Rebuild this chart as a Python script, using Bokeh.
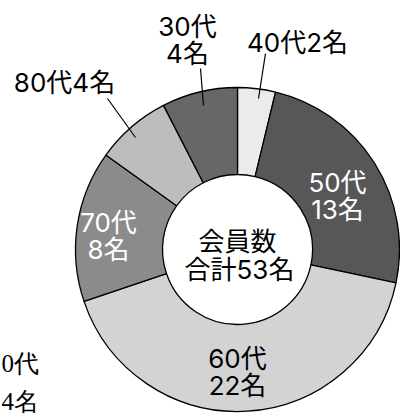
import numpy as np
from bokeh.plotting import figure
from bokeh.models import Range1d, ColumnDataSource
from bokeh.core.properties import value
from bokeh.embed import file_html
from bokeh.resources import INLINE

# ---- data ----
ages = ["40代", "50代", "60代", "70代", "80代", "30代"]
counts = [2, 13, 22, 8, 4, 4]
colors = ["#ebebeb", "#575757", "#d3d3d3", "#8b8b8b", "#bdbdbd", "#676767"]
center_title = "会員数"
side_lines = ["0代", "4名"]

W, H = 400, 417
p = figure(width=W, height=H, x_range=Range1d(0, W), y_range=Range1d(0, H),
           output_backend="svg", toolbar_location=None, min_border=0)
p.axis.visible = False
p.grid.visible = False
p.outline_line_color = None
p.background_fill_color = "white"


def Y(y):
    return H - y


FONT = value("Inter, 'Noto Sans CJK JP'")
cx, cy = 237, Y(249)
R_out, R_in = 162, 75
total = sum(counts)
cum = np.cumsum([0] + counts)
start = np.pi / 2 - cum[:-1] / total * 2 * np.pi
end = np.pi / 2 - cum[1:] / total * 2 * np.pi
src = ColumnDataSource(dict(start=start, end=end, color=colors))
p.annular_wedge(x=cx, y=cy, inner_radius=R_in, outer_radius=R_out,
                start_angle="start", end_angle="end", direction="clock",
                fill_color="color", line_color="black", line_width=1.3, source=src)

# labels: (lines, x, first-line y, color)
lab = {
    "40代": ([f"{ages[0]}{counts[0]}名"], 297, 42, "black"),
    "50代": ([ages[1], f"{counts[1]}名"], 337, 182, "white"),
    "60代": ([ages[2], f"{counts[2]}名"], 237, 358, "black"),
    "70代": ([ages[3], f"{counts[3]}名"], 108, 222, "white"),
    "80代": ([f"{ages[4]}{counts[4]}名"], 64, 82, "black"),
    "30代": ([ages[5], f"{counts[5]}名"], 187, 26, "black"),
}
xs, ys, ts, cs = [], [], [], []
for a in ages:
    lines, x, y0, c = lab[a]
    for i, t in enumerate(lines):
        xs.append(x); ys.append(Y(y0 + 27 * i)); ts.append(t); cs.append(c)
xs += [237, 239]; ys += [Y(241), Y(269)]
ts += [center_title, f"合計{total}名"]; cs += ["black", "black"]
p.text(x=xs, y=ys, text=ts, text_color=cs, text_font=FONT, text_font_size="26px",
       text_align="center", text_baseline="middle")

# leader lines
p.segment(x0=[200, 265, 107], y0=[Y(68), Y(53), Y(98)],
          x1=[203, 258, 135], y1=[Y(105), Y(98), Y(137)],
          line_color="black", line_width=1.2)

# serif text at lower-left edge
p.text(x=[1, 1], y=[Y(363), Y(401)], text=side_lines, text_color="black",
       text_font=value("serif"), text_font_size="25px",
       text_align="left", text_baseline="middle")

open("out.html", "w").write(file_html(p, INLINE))
